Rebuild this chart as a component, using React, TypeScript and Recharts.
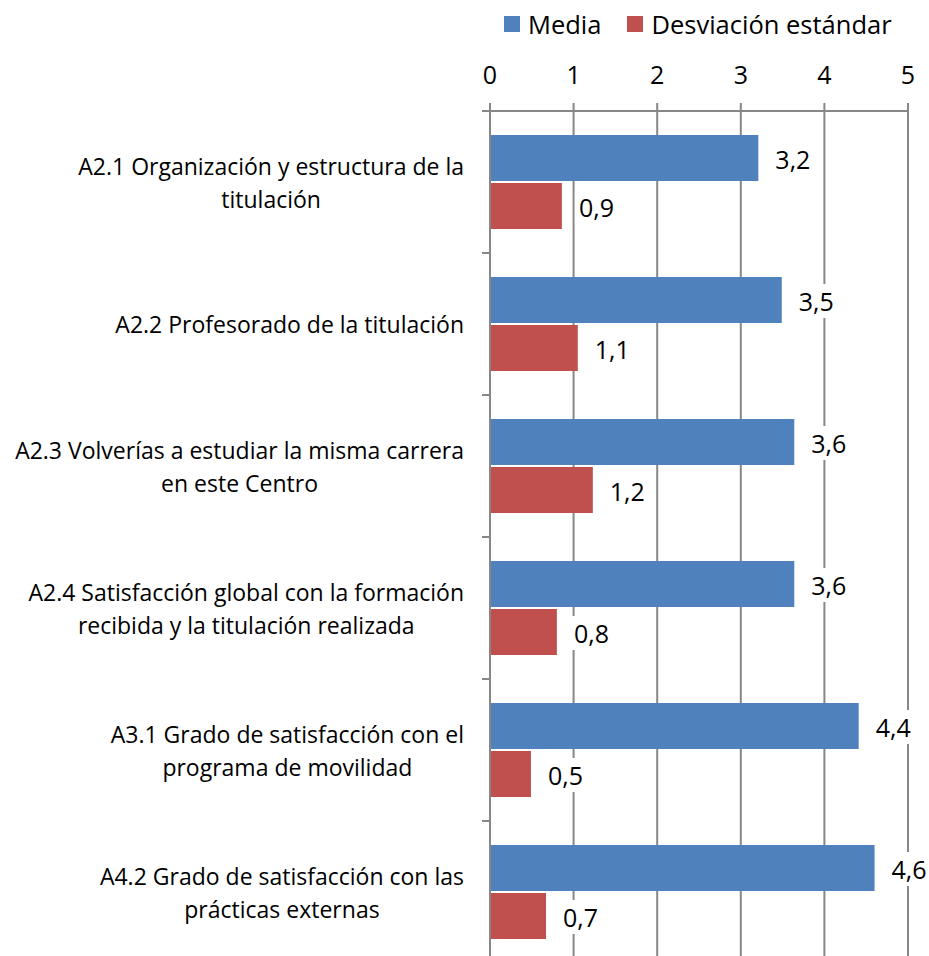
import React from 'react';
import { BarChart, Bar, XAxis, YAxis, CartesianGrid, Legend, LabelList } from 'recharts';

const categories = [
  'A2.1 Organización y estructura de la\ntitulación',
  'A2.2 Profesorado de la titulación',
  'A2.3 Volverías a estudiar la misma carrera\nen este Centro',
  'A2.4 Satisfacción global con la formación\nrecibida y la titulación realizada',
  'A3.1 Grado de satisfacción con el\nprograma de movilidad',
  'A4.2 Grado de satisfacción con las\nprácticas externas',
];
const media = [3.21, 3.49, 3.64, 3.64, 4.41, 4.6];
const desviacion = [0.86, 1.05, 1.23, 0.8, 0.49, 0.67];
const xTicks = [0, 1, 2, 3, 4, 5];
const seriesNames = ['Media', 'Desviación estándar'];
const colors = ['#4F81BD', '#C0504D'];

const data = categories.map((c, i) => ({ name: c, media: media[i], desv: desviacion[i] }));

const FONT = '"Open Sans", sans-serif';
const LABEL_SIZE = 23;
const NUM_SIZE = 25;
const LINE_H = 33;
const GRID = '#878787';

let ctx: CanvasRenderingContext2D | null = null;
function measure(t: string, size: number): number {
  if (!ctx) ctx = document.createElement('canvas').getContext('2d');
  if (!ctx) return t.length * 10;
  ctx.font = `${size}px "Open Sans"`;
  return ctx.measureText(t).width;
}

const CatTick = (props: any) => {
  const { x, y, payload, index } = props;
  const lines: string[] = String(payload.value).split('\n');
  const half = payload.offset || 71;
  const axisX = x + 26;
  const maxW = Math.max(...lines.map((l) => measure(l, LABEL_SIZE)));
  const cx = x - maxW / 2;
  const startY = y - ((lines.length - 1) * LINE_H) / 2;
  return (
    <g>
      <line x1={axisX - 8} x2={axisX} y1={y - half} y2={y - half} stroke={GRID} strokeWidth={2} />
      {index === categories.length - 1 && (
        <line x1={axisX - 8} x2={axisX} y1={y + half} y2={y + half} stroke={GRID} strokeWidth={2} />
      )}
      <text x={cx} y={startY} textAnchor="middle" dominantBaseline="central" fontFamily={FONT} fontSize={LABEL_SIZE} fill="#000">
        {lines.map((l, i) => (
          <tspan key={i} x={cx} y={startY + i * LINE_H}>{l}</tspan>
        ))}
      </text>
    </g>
  );
};

const fmt = (v: any) => Number(v).toFixed(1).replace('.', ',');

const ValueLabel = (props: any) => {
  const { x, y, width, height, value } = props;
  const t = fmt(value);
  const w = measure(t, NUM_SIZE);
  const lx = x + width + 17;
  const cy = y + height / 2 + 1;
  return (
    <g>
      <rect x={lx - 4} y={cy - 17} width={w + 8} height={34} fill="#fff" />
      <text x={lx} y={cy} dominantBaseline="central" fontFamily={FONT} fontSize={NUM_SIZE} fill="#000">{t}</text>
    </g>
  );
};

const LegendContent = () => (
  <div style={{ display: 'flex', alignItems: 'center', fontFamily: FONT, fontSize: 25.5, color: '#000', whiteSpace: 'nowrap' }}>
    {seriesNames.map((n, i) => (
      <div key={n} style={{ display: 'flex', alignItems: 'center', marginRight: i === 0 ? 26 : 0 }}>
        <span style={{ display: 'inline-block', width: 16, height: 16, background: colors[i], marginRight: 8 }} />
        <span>{n}</span>
      </div>
    ))}
  </div>
);

export default function App() {
  return (
    <div style={{ position: 'absolute', left: 0, top: 0, background: '#fff' }}>
      <BarChart
        width={929}
        height={970}
        data={data}
        layout="vertical"
        margin={{ top: 51, right: 21, bottom: 7, left: 0 }}
        barSize={46}
        barGap={2}
        barCategoryGap={24}
      >
        <CartesianGrid horizontal={false} vertical={true} stroke={GRID} strokeWidth={2} />
        <XAxis
          type="number"
          orientation="top"
          domain={[0, 5]}
          ticks={xTicks}
          height={60}
          axisLine={{ stroke: GRID, strokeWidth: 2 }}
          tickLine={{ stroke: GRID, strokeWidth: 2 }}
          tickSize={8}
          tickMargin={19}
          tick={{ fontFamily: FONT, fontSize: NUM_SIZE, fill: '#000' }}
        />
        <YAxis
          type="category"
          dataKey="name"
          width={490}
          axisLine={{ stroke: GRID, strokeWidth: 2 }}
          tickLine={false}
          tickSize={8}
          tickMargin={18}
          tick={<CatTick />}
          interval={0}
        />
        <Legend
          verticalAlign="middle"
          align="center"
          layout="horizontal"
          content={<LegendContent />}
          wrapperStyle={{ top: 7, left: 504, width: 425, height: 36 }}
        />
        <Bar dataKey="media" name={seriesNames[0]} fill={colors[0]} isAnimationActive={false}>
          <LabelList dataKey="media" content={<ValueLabel />} />
        </Bar>
        <Bar dataKey="desv" name={seriesNames[1]} fill={colors[1]} isAnimationActive={false}>
          <LabelList dataKey="desv" content={<ValueLabel />} />
        </Bar>
      </BarChart>
    </div>
  );
}
